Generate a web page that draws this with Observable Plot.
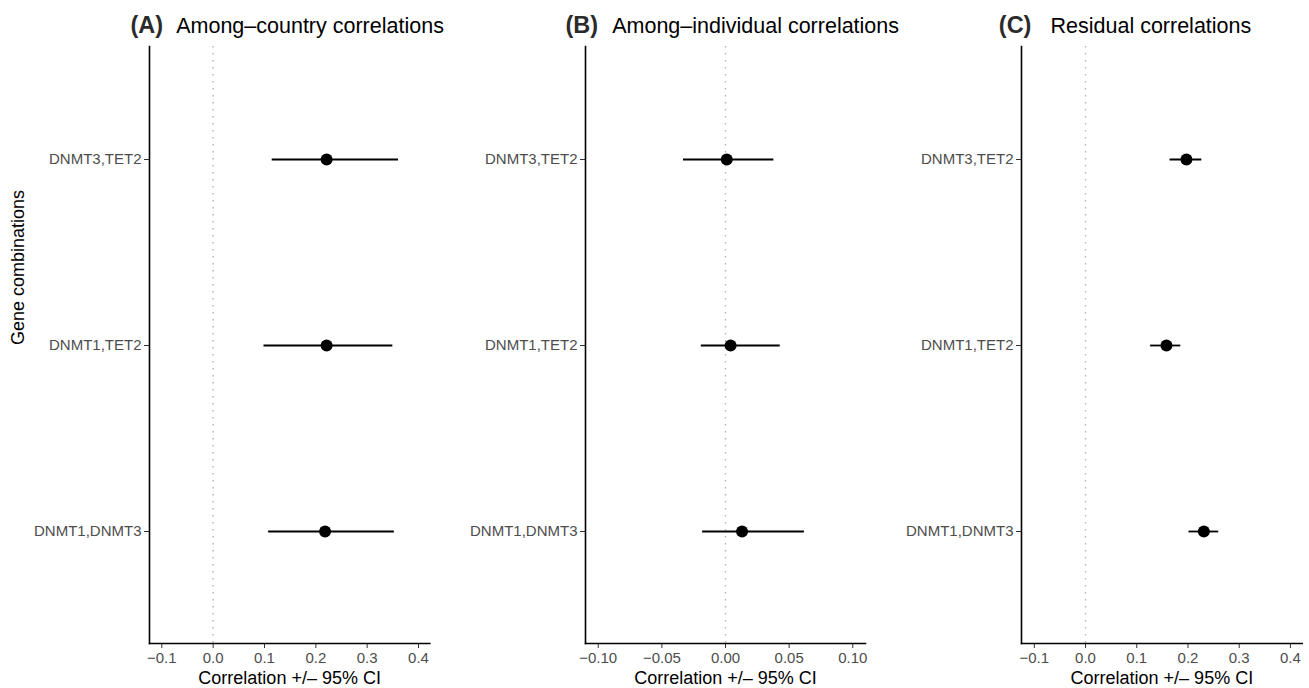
<!DOCTYPE html>
<html>
<head>
<meta charset="utf-8">
<script src="https://cdn.jsdelivr.net/npm/d3@7"></script>
<script src="https://cdn.jsdelivr.net/npm/@observablehq/plot@0.6"></script>
<style>
  html, body { margin: 0; padding: 0; background: white; }
  #wrap { position: relative; width: 1309px; height: 688px; display: flex; flex-direction: row; overflow: hidden; background: white; }
  #wrap svg { display: block; flex: none; overflow: visible; }
</style>
</head>
<body>
<div id="wrap"></div>
<script>
// ---- data ----
const combos = ["DNMT3,TET2", "DNMT1,TET2", "DNMT1,DNMT3"];

const tags = ["(A)", "(B)", "(C)"];
const titles = ["Among\u2013country correlations", "Among\u2013individual correlations", "Residual correlations"];

const estA = [0.221, 0.221, 0.218];
const loA  = [0.115, 0.099, 0.108];
const hiA  = [0.361, 0.350, 0.353];

const estB = [0.001, 0.004, 0.013];
const loB  = [-0.033, -0.019, -0.018];
const hiB  = [0.038, 0.043, 0.062];

const estC = [0.197, 0.158, 0.231];
const loC  = [0.165, 0.127, 0.202];
const hiC  = [0.227, 0.186, 0.260];

const ticksAC = [-0.1, 0, 0.1, 0.2, 0.3, 0.4];
const ticksB  = [-0.1, -0.05, 0, 0.05, 0.1];

const xLabel = "Correlation +/\u2013 95% CI";
const yLabel = "Gene combinations";

// ---- build ----
const FONT = "'Liberation Sans', Arial, Helvetica, sans-serif";

function rows(est, lo, hi) {
  return combos.map((c, i) => ({combo: c, est: est[i], lo: lo[i], hi: hi[i]}));
}

const panels = [
  {data: rows(estA, loA, hiA), domain: [-0.124, 0.422], ticks: ticksAC, fmt: d3.format(".1f"),
   width: 440, ml: 149, mr: 10.7, tagDx: -19, titleDx: 26.7, ylab: true},
  {data: rows(estB, loB, hiB), domain: [-0.110, 0.110], ticks: ticksB, fmt: d3.format(".2f"),
   width: 440, ml: 145, mr: 15, tagDx: -20, titleDx: 26.7, ylab: false},
  {data: rows(estC, loC, hiC), domain: [-0.125, 0.423], ticks: ticksAC, fmt: d3.format(".1f"),
   width: 429, ml: 141, mr: 7.3, tagDx: -22.7, titleDx: 29, ylab: false}
];

const wrap = document.getElementById("wrap");

panels.forEach((p, i) => {
  const marks = [
    Plot.ruleX([0], {stroke: "#b3b3b3", strokeWidth: 1.4, strokeDasharray: "1.4,5.6"}),
    Plot.ruleY(p.data, {y: "combo", x1: "lo", x2: "hi", stroke: "black", strokeWidth: 1.8}),
    Plot.dot(p.data, {x: "est", y: "combo", r: 6, fill: "black", stroke: "none"}),
    Plot.axisX({ticks: p.ticks, tickFormat: p.fmt, tickSize: 5, tickPadding: 4, fontSize: 15,
                fill: "#4d4d4d", stroke: "#333", label: null}),
    Plot.axisY({tickSize: 5, tickPadding: 3, fontSize: 15, fill: "#4d4d4d", stroke: "#333", label: null}),
    Plot.frame({anchor: "left", stroke: "black", strokeWidth: 1.6}),
    Plot.frame({anchor: "bottom", stroke: "black", strokeWidth: 1.6}),
    Plot.text([tags[i]], {frameAnchor: "top-left", textAnchor: "start", lineAnchor: "bottom",
                          dx: p.tagDx, dy: -13.5, fontSize: 23.5, fontWeight: "bold", fill: "#2b2b2b"}),
    Plot.text([titles[i]], {frameAnchor: "top-left", textAnchor: "start", lineAnchor: "bottom",
                            dx: p.titleDx, dy: -14, fontSize: 21.5, fill: "black"}),
    Plot.text([xLabel], {frameAnchor: "bottom", lineAnchor: "middle", dy: 35, fontSize: 18, fill: "black"})
  ];
  if (p.ylab) {
    marks.push(Plot.text([yLabel], {frameAnchor: "left", rotate: -90, lineAnchor: "middle",
                                    dx: 18 - p.ml, fontSize: 18, fill: "black"}));
  }
  const svg = Plot.plot({
    width: p.width,
    height: 688,
    marginLeft: p.ml,
    marginRight: p.mr,
    marginTop: 46,
    marginBottom: 45,
    style: {fontFamily: FONT, background: "transparent", overflow: "visible"},
    x: {domain: p.domain, label: null},
    y: {type: "point", domain: combos, padding: 0.6, label: null},
    marks
  });
  wrap.appendChild(svg);
});
</script>
</body>
</html>
